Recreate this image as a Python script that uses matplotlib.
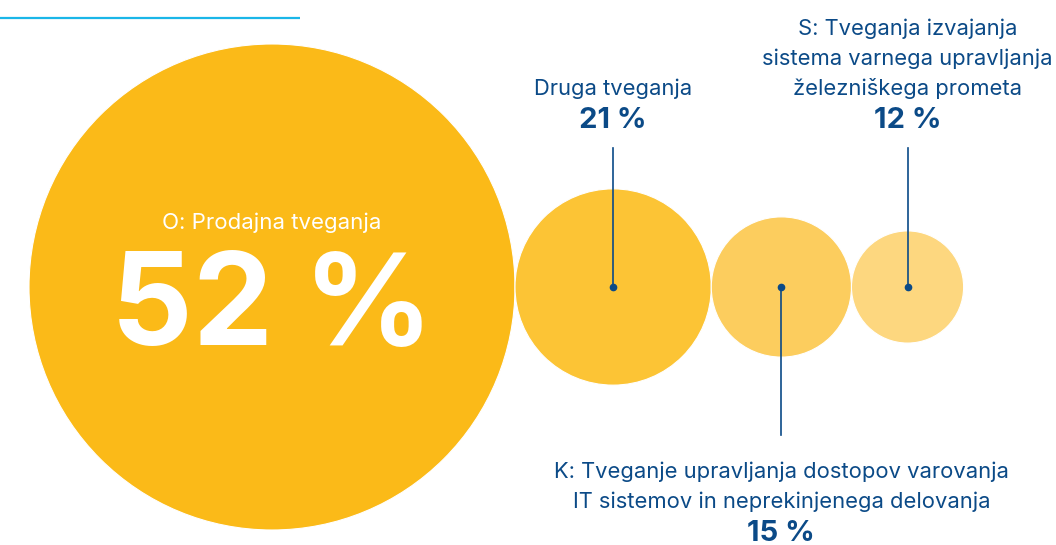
import matplotlib.pyplot as plt
from matplotlib.patches import Circle

# risk shares (%)
labels = ["O: Prodajna tveganja", "Druga tveganja",
          "K: Tveganje upravljanja dostopov varovanja\nIT sistemov in neprekinjenega delovanja",
          "S: Tveganja izvajanja\nsistema varnega upravljanja\nželezniškega prometa"]
values = [52, 21, 15, 12]
value_text = ["52 %", "21 %", "15 %", "12 %"]
colors = ["#FBBA18", "#FCC435", "#FCCD5E", "#FDD77F"]

BLUE = "#0B4A87"
FONT = "Inter"
LABEL_FS = 15.8
VALUE_FS = 21

fig = plt.figure(figsize=(10.56, 5.45), dpi=100)
ax = fig.add_axes([0, 0, 1, 1])
ax.set_xlim(0, 1056)
ax.set_ylim(545, 0)
ax.set_aspect("equal")
ax.axis("off")

# radius proportional to value, circles touching in a row
scale = 243 / 52
cy = 287
left = 29
centers = []
for v, c in zip(values, colors):
    r = v * scale
    cx = left + r
    centers.append(cx)
    ax.add_patch(Circle((cx, cy), r, facecolor=c, edgecolor="white", lw=0.8))
    left = cx + r

# big circle labels
ax.text(centers[0], 229, labels[0], color="white", fontsize=16, family=FONT,
        ha="center", va="baseline")
ax.text(centers[0], 345, value_text[0], color="white", fontsize=92, family=FONT,
        fontweight="bold", ha="center", va="baseline")

# callouts above: index 1 and 3 (baseline = last line)
for i in (1, 3):
    x = centers[i]
    ax.text(x, 95, labels[i], color=BLUE, fontsize=LABEL_FS, family=FONT,
            ha="center", va="baseline", linespacing=1.55)
    ax.text(x, 128, value_text[i], color=BLUE, fontsize=VALUE_FS, family=FONT,
            fontweight="bold", ha="center", va="baseline")
    ax.plot([x, x], [148, cy], color=BLUE, lw=1.2)
    ax.plot(x, cy, "o", color=BLUE, ms=4.5)

# callout below: index 2
x = centers[2]
ax.text(x, 508, labels[2], color=BLUE, fontsize=LABEL_FS, family=FONT,
        ha="center", va="baseline", linespacing=1.55)
ax.text(x, 541, value_text[2], color=BLUE, fontsize=VALUE_FS, family=FONT,
        fontweight="bold", ha="center", va="baseline")
ax.plot([x, x], [cy, 435], color=BLUE, lw=1.2)
ax.plot(x, cy, "o", color=BLUE, ms=4.5)

# header rule
ax.plot([0, 300], [18, 18], color="#1AB6E8", lw=1.6, solid_capstyle="butt")

fig.savefig("out.png", dpi=100)
